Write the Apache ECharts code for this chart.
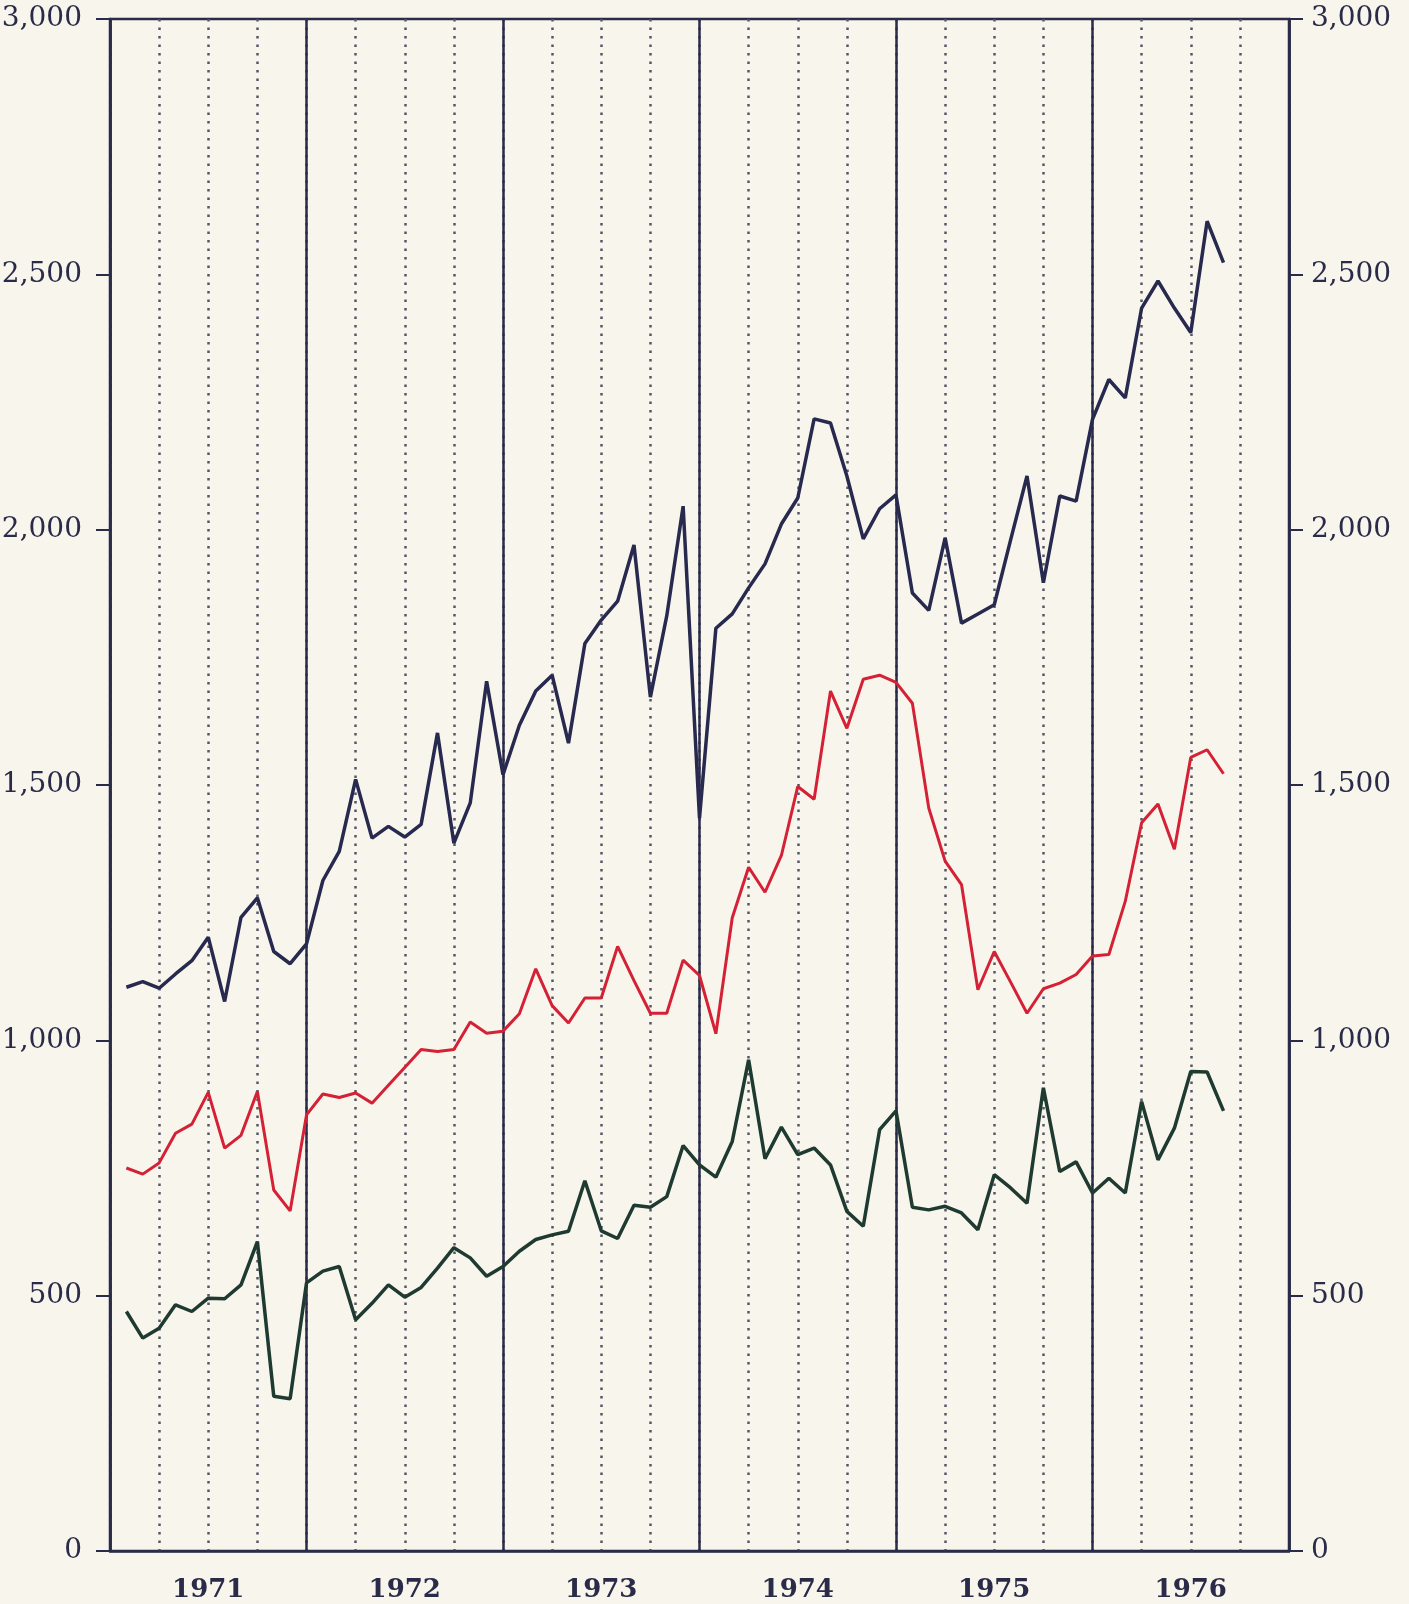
<!DOCTYPE html>
<html lang="en">
<head>
    <meta charset="UTF-8">
    <title>1971-1976</title>
    <style>
        html, body { margin: 0; padding: 0; background: #f8f5ec; }
    </style>
</head>
<body>
<div id="box" style="width: 1409px;height: 1604px;"></div>
<script src="https://cdn.jsdelivr.net/npm/echarts@6/dist/echarts.min.js" type="text/javascript"></script>
<script type="text/javascript">
    // year labels, months counted from Jan 1971 (point i sits at month i+1)
    let years = ['1971', '1972', '1973', '1974', '1975', '1976'];
    let yTicks = [0, 500, 1000, 1500, 2000, 2500, 3000];

    let blue = [
        1104, 1115, 1102, 1130, 1156, 1202, 1076, 1241, 1279, 1174, 1150, 1189,
        1313, 1370, 1511, 1396, 1419, 1398, 1423, 1602, 1386, 1465, 1703, 1520,
        1617, 1684, 1715, 1582, 1777, 1823, 1860, 1970, 1672, 1831, 2046, 1435,
        1807, 1835, 1886, 1933, 2011, 2062, 2217, 2209, 2105, 1982, 2041, 2068,
        1876, 1842, 1984, 1817, 1835, 1853, 1980, 2105, 1896, 2066, 2056, 2216,
        2294, 2258, 2434, 2487, 2434, 2386, 2604, 2523
    ];
    let red = [
        750, 738, 760, 818, 836, 898, 789, 814, 900, 707, 666, 854,
        895, 888, 897, 877, 912, 947, 982, 978, 982, 1036, 1014, 1018,
        1052, 1140, 1068, 1034, 1083, 1083, 1184, 1117, 1053, 1053, 1157, 1127,
        1013, 1240, 1339, 1290, 1362, 1497, 1472, 1684, 1611, 1707, 1715, 1701,
        1660, 1455, 1351, 1305, 1099, 1174, 1114, 1053, 1101, 1112, 1129, 1165,
        1168, 1272, 1426, 1463, 1374, 1554, 1569, 1522
    ];
    let green = [
        469, 417, 436, 482, 469, 495, 494, 521, 606, 303, 298, 525,
        548, 557, 453, 485, 521, 497, 516, 554, 594, 574, 538, 557,
        587, 610, 619, 626, 725, 627, 612, 677, 673, 694, 794, 756,
        732, 802, 962, 768, 830, 776, 789, 756, 665, 636, 825, 862,
        673, 668, 675, 662, 629, 737, 711, 681, 907, 743, 762, 701,
        730, 701, 880, 766, 828, 939, 938, 862
    ];

    let ink = '#2a2b48';
    let toPoints = arr => arr.map((v, i) => [i + 1, v]);

    function yAxisOf(pos, margin) {
        return {
            type: 'value',
            position: pos,
            min: yTicks[0],
            max: yTicks[yTicks.length - 1],
            interval: yTicks[1] - yTicks[0],
            axisLine: {show: true, lineStyle: {color: ink, width: 2.5}},
            axisTick: {show: true, length: 14, lineStyle: {color: ink, width: 2}},
            splitLine: {show: false},
            axisLabel: {
                margin: margin,
                color: ink,
                fontFamily: 'DejaVu Serif',
                fontSize: 28,
                formatter: v => v.toLocaleString('en-US')
            }
        };
    }

    let chart = echarts.init(document.getElementById('box'));
    chart.setOption({
        backgroundColor: '#f8f5ec',
        animation: false,
        grid: {
            left: 110, right: 120, top: 19, bottom: 53,
            outerBoundsMode: 'none',
            containLabel: false,
            show: true, borderColor: ink, borderWidth: 2.5,
            backgroundColor: 'transparent'
        },
        xAxis: [
            {
                // months, quarter dotted lines
                type: 'value',
                min: 0,
                max: years.length * 12,
                interval: 3,
                axisLine: {show: true, lineStyle: {color: ink, width: 2.5}},
                axisTick: {show: false},
                axisLabel: {show: false},
                splitLine: {show: true, lineStyle: {color: '#55556a', width: 2.5, type: [2.5, 6]}}
            },
            {
                // years, solid boundaries and centred labels
                type: 'category',
                position: 'bottom',
                data: years,
                boundaryGap: true,
                axisLine: {show: false},
                axisTick: {show: false},
                splitLine: {show: true, lineStyle: {color: ink, width: 2.5}},
                axisLabel: {
                    margin: 26,
                    color: ink,
                    fontFamily: 'DejaVu Serif',
                    fontWeight: 'bold',
                    fontSize: 26
                }
            }
        ],
        yAxis: [yAxisOf('left', 28), yAxisOf('right', 22)],
        series: [
            {
                name: 'blue', type: 'line', xAxisIndex: 0, yAxisIndex: 0,
                data: toPoints(blue), showSymbol: false,
                lineStyle: {color: '#27294f', width: 3.5}
            },
            {
                name: 'red', type: 'line', xAxisIndex: 0, yAxisIndex: 0,
                data: toPoints(red), showSymbol: false,
                lineStyle: {color: '#d42136', width: 3}
            },
            {
                name: 'green', type: 'line', xAxisIndex: 0, yAxisIndex: 0,
                data: toPoints(green), showSymbol: false,
                lineStyle: {color: '#1f3a30', width: 3.5}
            }
        ]
    });
</script>
</body>
</html>
